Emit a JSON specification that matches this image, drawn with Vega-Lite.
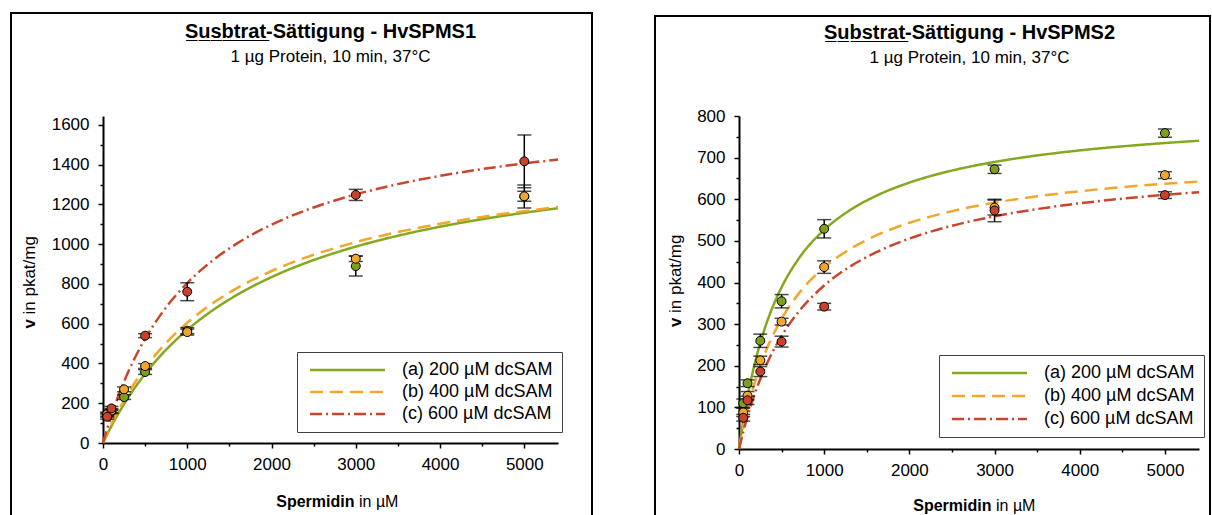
{
  "$schema": "https://vega.github.io/schema/vega-lite/v6.json",
  "padding": {"left": 10, "top": 12, "right": 0, "bottom": 0},
  "spacing": 61,
  "center": true,
  "resolve": {"scale": {"color": "independent", "strokeDash": "independent", "fill": "independent"}, "legend": {"color": "independent", "strokeDash": "independent"}},
  "config": {
    "font": "Liberation Sans",
    "view": {"stroke": "black", "strokeWidth": 2},
    "axis": {"grid": false, "domainColor": "black", "domainWidth": 2, "tickColor": "black", "tickWidth": 1.5, "labelColor": "black", "labelFontSize": 17, "labelFont": "Liberation Sans", "titleColor": "black", "titleFontSize": 16, "titleFont": "Liberation Sans", "labelOverlap": false, "labelFlush": false, "labelBound": false},
    "title": {"fontSize": 20, "font": "Liberation Sans", "fontWeight": "bold", "color": "black", "subtitleFontSize": 17, "subtitleFont": "Liberation Sans", "subtitleColor": "black", "subtitlePadding": 7, "anchor": "middle", "frame": "group"}
  },
  "datasets": {
    "pL": [
      {"series": "(a) 200 µM dcSAM", "x": 50, "v": 140, "err": 10},
      {"series": "(a) 200 µM dcSAM", "x": 100, "v": 158, "err": 10},
      {"series": "(a) 200 µM dcSAM", "x": 250, "v": 231, "err": 12},
      {"series": "(a) 200 µM dcSAM", "x": 500, "v": 357, "err": 12},
      {"series": "(a) 200 µM dcSAM", "x": 1000, "v": 565, "err": 15},
      {"series": "(a) 200 µM dcSAM", "x": 3000, "v": 890, "err": 50},
      {"series": "(a) 200 µM dcSAM", "x": 5000, "v": 1240, "err": 58},
      {"series": "(b) 400 µM dcSAM", "x": 50, "v": 145, "err": 10},
      {"series": "(b) 400 µM dcSAM", "x": 100, "v": 163, "err": 10},
      {"series": "(b) 400 µM dcSAM", "x": 250, "v": 270, "err": 12},
      {"series": "(b) 400 µM dcSAM", "x": 500, "v": 387, "err": 12},
      {"series": "(b) 400 µM dcSAM", "x": 1000, "v": 558, "err": 15},
      {"series": "(b) 400 µM dcSAM", "x": 3000, "v": 927, "err": 14},
      {"series": "(b) 400 µM dcSAM", "x": 5000, "v": 1241, "err": 25},
      {"series": "(c) 600 µM dcSAM", "x": 50, "v": 132, "err": 12},
      {"series": "(c) 600 µM dcSAM", "x": 100, "v": 174, "err": 10},
      {"series": "(c) 600 µM dcSAM", "x": 500, "v": 540, "err": 10},
      {"series": "(c) 600 µM dcSAM", "x": 1000, "v": 761, "err": 45},
      {"series": "(c) 600 µM dcSAM", "x": 3000, "v": 1248, "err": 28},
      {"series": "(c) 600 µM dcSAM", "x": 5000, "v": 1417, "err": 133}
    ],
    "cL": [
      {"series": "(a) 200 µM dcSAM", "x": 0, "v": 0}, {"series": "(a) 200 µM dcSAM", "x": 50, "v": 43.5}, {"series": "(a) 200 µM dcSAM", "x": 100, "v": 84.7}, {"series": "(a) 200 µM dcSAM", "x": 200, "v": 160.7}, {"series": "(a) 200 µM dcSAM", "x": 300, "v": 229.2}, {"series": "(a) 200 µM dcSAM", "x": 400, "v": 291.4}, {"series": "(a) 200 µM dcSAM", "x": 500, "v": 348.0}, {"series": "(a) 200 µM dcSAM", "x": 700, "v": 447.4}, {"series": "(a) 200 µM dcSAM", "x": 1000, "v": 569.2}, {"series": "(a) 200 µM dcSAM", "x": 1300, "v": 667.1}, {"series": "(a) 200 µM dcSAM", "x": 1600, "v": 747.4}, {"series": "(a) 200 µM dcSAM", "x": 2000, "v": 834.5}, {"series": "(a) 200 µM dcSAM", "x": 2500, "v": 920.3}, {"series": "(a) 200 µM dcSAM", "x": 3000, "v": 987.9}, {"series": "(a) 200 µM dcSAM", "x": 3500, "v": 1042.7}, {"series": "(a) 200 µM dcSAM", "x": 4000, "v": 1088.0}, {"series": "(a) 200 µM dcSAM", "x": 4500, "v": 1126.0}, {"series": "(a) 200 µM dcSAM", "x": 5000, "v": 1158.3}, {"series": "(a) 200 µM dcSAM", "x": 5400, "v": 1181.0},
      {"series": "(b) 400 µM dcSAM", "x": 0, "v": 0}, {"series": "(b) 400 µM dcSAM", "x": 50, "v": 48.7}, {"series": "(b) 400 µM dcSAM", "x": 100, "v": 94.3}, {"series": "(b) 400 µM dcSAM", "x": 200, "v": 177.6}, {"series": "(b) 400 µM dcSAM", "x": 300, "v": 251.6}, {"series": "(b) 400 µM dcSAM", "x": 400, "v": 317.9}, {"series": "(b) 400 µM dcSAM", "x": 500, "v": 377.7}, {"series": "(b) 400 µM dcSAM", "x": 700, "v": 480.9}, {"series": "(b) 400 µM dcSAM", "x": 1000, "v": 604.9}, {"series": "(b) 400 µM dcSAM", "x": 1300, "v": 702.5}, {"series": "(b) 400 µM dcSAM", "x": 1600, "v": 781.2}, {"series": "(b) 400 µM dcSAM", "x": 2000, "v": 865.3}, {"series": "(b) 400 µM dcSAM", "x": 2500, "v": 946.8}, {"series": "(b) 400 µM dcSAM", "x": 3000, "v": 1010.2}, {"series": "(b) 400 µM dcSAM", "x": 3500, "v": 1061.0}, {"series": "(b) 400 µM dcSAM", "x": 4000, "v": 1102.5}, {"series": "(b) 400 µM dcSAM", "x": 4500, "v": 1137.2}, {"series": "(b) 400 µM dcSAM", "x": 5000, "v": 1166.5}, {"series": "(b) 400 µM dcSAM", "x": 5400, "v": 1186.9},
      {"series": "(c) 600 µM dcSAM", "x": 0, "v": 0}, {"series": "(c) 600 µM dcSAM", "x": 50, "v": 72.1}, {"series": "(c) 600 µM dcSAM", "x": 100, "v": 138.4}, {"series": "(c) 600 µM dcSAM", "x": 200, "v": 256.3}, {"series": "(c) 600 µM dcSAM", "x": 300, "v": 357.9}, {"series": "(c) 600 µM dcSAM", "x": 400, "v": 446.5}, {"series": "(c) 600 µM dcSAM", "x": 500, "v": 524.2}, {"series": "(c) 600 µM dcSAM", "x": 700, "v": 654.6}, {"series": "(c) 600 µM dcSAM", "x": 1000, "v": 804.7}, {"series": "(c) 600 µM dcSAM", "x": 1300, "v": 918.0}, {"series": "(c) 600 µM dcSAM", "x": 1600, "v": 1006.5}, {"series": "(c) 600 µM dcSAM", "x": 2000, "v": 1098.4}, {"series": "(c) 600 µM dcSAM", "x": 2500, "v": 1184.9}, {"series": "(c) 600 µM dcSAM", "x": 3000, "v": 1250.6}, {"series": "(c) 600 µM dcSAM", "x": 3500, "v": 1302.2}, {"series": "(c) 600 µM dcSAM", "x": 4000, "v": 1343.7}, {"series": "(c) 600 µM dcSAM", "x": 4500, "v": 1377.9}, {"series": "(c) 600 µM dcSAM", "x": 5000, "v": 1406.5}, {"series": "(c) 600 µM dcSAM", "x": 5400, "v": 1426.3}
    ],
    "pR": [
      {"series": "(a) 200 µM dcSAM", "x": 50, "v": 110, "err": 10},
      {"series": "(a) 200 µM dcSAM", "x": 100, "v": 158, "err": 8},
      {"series": "(a) 200 µM dcSAM", "x": 250, "v": 260, "err": 16},
      {"series": "(a) 200 µM dcSAM", "x": 500, "v": 355, "err": 16},
      {"series": "(a) 200 µM dcSAM", "x": 1000, "v": 529, "err": 22},
      {"series": "(a) 200 µM dcSAM", "x": 3000, "v": 672, "err": 10},
      {"series": "(a) 200 µM dcSAM", "x": 5000, "v": 759, "err": 10},
      {"series": "(b) 400 µM dcSAM", "x": 50, "v": 88, "err": 10},
      {"series": "(b) 400 µM dcSAM", "x": 100, "v": 128, "err": 10},
      {"series": "(b) 400 µM dcSAM", "x": 250, "v": 213, "err": 10},
      {"series": "(b) 400 µM dcSAM", "x": 500, "v": 306, "err": 8},
      {"series": "(b) 400 µM dcSAM", "x": 1000, "v": 437, "err": 15},
      {"series": "(b) 400 µM dcSAM", "x": 3000, "v": 580, "err": 18},
      {"series": "(b) 400 µM dcSAM", "x": 5000, "v": 658, "err": 8},
      {"series": "(c) 600 µM dcSAM", "x": 50, "v": 75, "err": 8},
      {"series": "(c) 600 µM dcSAM", "x": 100, "v": 117, "err": 10},
      {"series": "(c) 600 µM dcSAM", "x": 250, "v": 186, "err": 12},
      {"series": "(c) 600 µM dcSAM", "x": 500, "v": 258, "err": 13},
      {"series": "(c) 600 µM dcSAM", "x": 1000, "v": 342, "err": 8},
      {"series": "(c) 600 µM dcSAM", "x": 3000, "v": 573, "err": 27},
      {"series": "(c) 600 µM dcSAM", "x": 5000, "v": 610, "err": 8}
    ],
    "cR": [
      {"series": "(a) 200 µM dcSAM", "x": 0, "v": 0}, {"series": "(a) 200 µM dcSAM", "x": 50, "v": 68.0}, {"series": "(a) 200 µM dcSAM", "x": 100, "v": 125.5}, {"series": "(a) 200 µM dcSAM", "x": 200, "v": 217.6}, {"series": "(a) 200 µM dcSAM", "x": 300, "v": 288.0}, {"series": "(a) 200 µM dcSAM", "x": 400, "v": 343.6}, {"series": "(a) 200 µM dcSAM", "x": 500, "v": 388.6}, {"series": "(a) 200 µM dcSAM", "x": 700, "v": 457.0}, {"series": "(a) 200 µM dcSAM", "x": 1000, "v": 526.5}, {"series": "(a) 200 µM dcSAM", "x": 1300, "v": 573.4}, {"series": "(a) 200 µM dcSAM", "x": 1600, "v": 607.3}, {"series": "(a) 200 µM dcSAM", "x": 2000, "v": 640.0}, {"series": "(a) 200 µM dcSAM", "x": 2500, "v": 668.9}, {"series": "(a) 200 µM dcSAM", "x": 3000, "v": 689.6}, {"series": "(a) 200 µM dcSAM", "x": 3500, "v": 705.2}, {"series": "(a) 200 µM dcSAM", "x": 4000, "v": 717.4}, {"series": "(a) 200 µM dcSAM", "x": 4500, "v": 727.1}, {"series": "(a) 200 µM dcSAM", "x": 5000, "v": 735.1}, {"series": "(a) 200 µM dcSAM", "x": 5400, "v": 740.6},
      {"series": "(b) 400 µM dcSAM", "x": 0, "v": 0}, {"series": "(b) 400 µM dcSAM", "x": 50, "v": 51.4}, {"series": "(b) 400 µM dcSAM", "x": 100, "v": 96.0}, {"series": "(b) 400 µM dcSAM", "x": 200, "v": 169.4}, {"series": "(b) 400 µM dcSAM", "x": 300, "v": 227.4}, {"series": "(b) 400 µM dcSAM", "x": 400, "v": 274.3}, {"series": "(b) 400 µM dcSAM", "x": 500, "v": 313.0}, {"series": "(b) 400 µM dcSAM", "x": 700, "v": 373.3}, {"series": "(b) 400 µM dcSAM", "x": 1000, "v": 436.4}, {"series": "(b) 400 µM dcSAM", "x": 1300, "v": 480.0}, {"series": "(b) 400 µM dcSAM", "x": 1600, "v": 512.0}, {"series": "(b) 400 µM dcSAM", "x": 2000, "v": 543.4}, {"series": "(b) 400 µM dcSAM", "x": 2500, "v": 571.4}, {"series": "(b) 400 µM dcSAM", "x": 3000, "v": 591.8}, {"series": "(b) 400 µM dcSAM", "x": 3500, "v": 607.2}, {"series": "(b) 400 µM dcSAM", "x": 4000, "v": 619.4}, {"series": "(b) 400 µM dcSAM", "x": 4500, "v": 629.1}, {"series": "(b) 400 µM dcSAM", "x": 5000, "v": 637.2}, {"series": "(b) 400 µM dcSAM", "x": 5400, "v": 642.6},
      {"series": "(c) 600 µM dcSAM", "x": 0, "v": 0}, {"series": "(c) 600 µM dcSAM", "x": 50, "v": 41.5}, {"series": "(c) 600 µM dcSAM", "x": 100, "v": 78.3}, {"series": "(c) 600 µM dcSAM", "x": 200, "v": 141.1}, {"series": "(c) 600 µM dcSAM", "x": 300, "v": 192.5}, {"series": "(c) 600 µM dcSAM", "x": 400, "v": 235.4}, {"series": "(c) 600 µM dcSAM", "x": 500, "v": 271.6}, {"series": "(c) 600 µM dcSAM", "x": 700, "v": 329.8}, {"series": "(c) 600 µM dcSAM", "x": 1000, "v": 392.8}, {"series": "(c) 600 µM dcSAM", "x": 1300, "v": 437.9}, {"series": "(c) 600 µM dcSAM", "x": 1600, "v": 471.7}, {"series": "(c) 600 µM dcSAM", "x": 2000, "v": 505.5}, {"series": "(c) 600 µM dcSAM", "x": 2500, "v": 536.3}, {"series": "(c) 600 µM dcSAM", "x": 3000, "v": 559.0}, {"series": "(c) 600 µM dcSAM", "x": 3500, "v": 576.4}, {"series": "(c) 600 µM dcSAM", "x": 4000, "v": 590.2}, {"series": "(c) 600 µM dcSAM", "x": 4500, "v": 601.4}, {"series": "(c) 600 µM dcSAM", "x": 5000, "v": 610.7}, {"series": "(c) 600 µM dcSAM", "x": 5400, "v": 617.0}
    ]
  },
  "hconcat": [
    {
      "width": 581,
      "height": 510,
      "title": {"text": "S\u0332u\u0332s\u0332b\u0332t\u0332r\u0332a\u0332t\u0332-Sättigung - HvSPMS1", "subtitle": "1 µg Protein, 10 min, 37°C", "offset": -52, "dx": 29},
      "resolve": {"axis": {"x": "independent", "y": "independent"}},
      "layer": [
        {
          "data": {"name": "cL"},
          "mark": {"type": "line", "strokeWidth": 2.5, "interpolate": "monotone", "strokeCap": "butt"},
          "encoding": {
            "x": {"field": "x", "type": "quantitative", "scale": {"domain": [0, 5400], "range": [92, 547], "nice": false, "zero": false},
              "axis": {"orient": "bottom", "offset": -80, "values": [0, 500, 1000, 1500, 2000, 2500, 3000, 3500, 4000, 4500, 5000], "format": "d", "labelExpr": "datum.value % 1000 == 0 ? datum.label : ''", "tickSize": {"condition": {"test": "datum.value % 1000 == 0", "value": 5}, "value": 3}, "labelPadding": 8, "title": "Spermidin", "titleFontWeight": "bold", "titleAlign": "right", "titleX": 343, "titleY": 63, "titleBaseline": "alphabetic"}},
            "y": {"field": "v", "type": "quantitative", "scale": {"domain": [0, 1645], "range": [430, 103], "nice": false},
              "axis": {"orient": "left", "offset": -92, "values": [0, 100, 200, 300, 400, 500, 600, 700, 800, 900, 1000, 1100, 1200, 1300, 1400, 1500, 1600], "format": "d", "labelExpr": "datum.value % 200 == 0 ? datum.label : ''", "tickSize": {"condition": {"test": "datum.value % 200 == 0", "value": 5}, "value": 3}, "labelPadding": 9, "title": "v", "titleFontSize": 17, "titleFontWeight": "bold", "titleAngle": -90, "titleAlign": "left", "titleX": -74, "titleY": 315, "titleBaseline": "middle"}},
            "color": {"field": "series", "type": "nominal", "scale": {"domain": ["(a) 200 µM dcSAM", "(b) 400 µM dcSAM", "(c) 600 µM dcSAM"], "range": ["#86a81f", "#f2a62a", "#c9452b"]},
              "legend": {"title": null, "orient": "none", "legendX": 286, "legendY": 339, "symbolType": "M-1,0H14", "symbolSize": 100, "symbolStrokeWidth": 2.5, "labelFontSize": 18, "labelFont": "Liberation Sans", "labelColor": "black", "labelOffset": 78, "rowPadding": 4, "padding": 9, "strokeColor": "#404040", "fillColor": "white", "labelLimit": 400}},
            "strokeDash": {"field": "series", "type": "nominal", "scale": {"domain": ["(a) 200 µM dcSAM", "(b) 400 µM dcSAM", "(c) 600 µM dcSAM"], "range": [[1, 0], [13, 7], [12, 4, 2, 4]]},
              "legend": {"title": null, "orient": "none", "legendX": 286, "legendY": 339, "symbolType": "M-1,0H14", "symbolSize": 100, "symbolStrokeWidth": 2.5, "labelFontSize": 18, "labelFont": "Liberation Sans", "labelColor": "black", "labelOffset": 78, "rowPadding": 4, "padding": 9, "strokeColor": "#404040", "fillColor": "white", "labelLimit": 400}}
          }
        },
        {
          "data": {"name": "pL"},
          "mark": {"type": "errorbar", "ticks": {"size": 14, "thickness": 1.5, "color": "black"}, "rule": {"color": "black", "strokeWidth": 1.5}},
          "encoding": {
            "x": {"field": "x", "type": "quantitative", "axis": null},
            "y": {"field": "v", "type": "quantitative", "axis": null},
            "yError": {"field": "err"}
          }
        },
        {
          "data": {"name": "pL"},
          "mark": {"type": "circle", "size": 80, "opacity": 1, "stroke": "black", "strokeWidth": 1},
          "encoding": {
            "x": {"field": "x", "type": "quantitative",
              "axis": {"orient": "bottom", "offset": -80, "domain": false, "ticks": false, "labels": false, "title": "in µM", "titleFontWeight": "normal", "titleAlign": "left", "titleX": 347.5, "titleY": 63, "titleBaseline": "alphabetic"}},
            "y": {"field": "v", "type": "quantitative",
              "axis": {"orient": "left", "offset": -92, "domain": false, "ticks": false, "labels": false, "title": "in pkat/mg", "titleFontSize": 17, "titleFontWeight": "normal", "titleAngle": -90, "titleAlign": "left", "titleX": -74, "titleY": 301, "titleBaseline": "middle"}},
            "fill": {"field": "series", "type": "nominal", "scale": {"domain": ["(a) 200 µM dcSAM", "(b) 400 µM dcSAM", "(c) 600 µM dcSAM"], "range": ["#7f9e1a", "#f0a62c", "#c8412a"]}, "legend": null}
          }
        }
      ]
    },
    {
      "width": 555,
      "height": 504,
      "title": {"text": "S\u0332u\u0332b\u0332s\u0332t\u0332r\u0332a\u0332t\u0332-Sättigung - HvSPMS2", "subtitle": "1 µg Protein, 10 min, 37°C", "offset": -50, "dx": 37},
      "resolve": {"axis": {"x": "independent", "y": "independent"}},
      "layer": [
        {
          "data": {"name": "cR"},
          "mark": {"type": "line", "strokeWidth": 2.5, "interpolate": "monotone", "strokeCap": "butt"},
          "encoding": {
            "x": {"field": "x", "type": "quantitative", "scale": {"domain": [0, 5400], "range": [84, 544], "nice": false, "zero": false},
              "axis": {"orient": "bottom", "offset": -71, "values": [0, 500, 1000, 1500, 2000, 2500, 3000, 3500, 4000, 4500, 5000], "format": "d", "labelExpr": "datum.value % 1000 == 0 ? datum.label : ''", "tickSize": {"condition": {"test": "datum.value % 1000 == 0", "value": 5}, "value": 3}, "labelPadding": 8, "title": "Spermidin", "titleFontWeight": "bold", "titleAlign": "right", "titleX": 336, "titleY": 61, "titleBaseline": "alphabetic"}},
            "y": {"field": "v", "type": "quantitative", "scale": {"domain": [0, 800], "range": [433, 100], "nice": false},
              "axis": {"orient": "left", "offset": -84, "values": [0, 50, 100, 150, 200, 250, 300, 350, 400, 450, 500, 550, 600, 650, 700, 750, 800], "format": "d", "labelExpr": "datum.value % 100 == 0 ? datum.label : ''", "tickSize": {"condition": {"test": "datum.value % 100 == 0", "value": 5}, "value": 3}, "labelPadding": 9, "title": "v", "titleFontSize": 17, "titleFontWeight": "bold", "titleAngle": -90, "titleAlign": "left", "titleX": -64, "titleY": 310.5, "titleBaseline": "middle"}},
            "color": {"field": "series", "type": "nominal", "scale": {"domain": ["(a) 200 µM dcSAM", "(b) 400 µM dcSAM", "(c) 600 µM dcSAM"], "range": ["#86a81f", "#f2a62a", "#c9452b"]},
              "legend": {"title": null, "orient": "none", "legendX": 284, "legendY": 339, "symbolType": "M-1,0H14", "symbolSize": 100, "symbolStrokeWidth": 2.5, "labelFontSize": 18, "labelFont": "Liberation Sans", "labelColor": "black", "labelOffset": 78, "rowPadding": 5, "padding": 9, "strokeColor": "#404040", "fillColor": "white", "labelLimit": 400}},
            "strokeDash": {"field": "series", "type": "nominal", "scale": {"domain": ["(a) 200 µM dcSAM", "(b) 400 µM dcSAM", "(c) 600 µM dcSAM"], "range": [[1, 0], [13, 7], [12, 4, 2, 4]]},
              "legend": {"title": null, "orient": "none", "legendX": 284, "legendY": 339, "symbolType": "M-1,0H14", "symbolSize": 100, "symbolStrokeWidth": 2.5, "labelFontSize": 18, "labelFont": "Liberation Sans", "labelColor": "black", "labelOffset": 78, "rowPadding": 5, "padding": 9, "strokeColor": "#404040", "fillColor": "white", "labelLimit": 400}}
          }
        },
        {
          "data": {"name": "pR"},
          "mark": {"type": "errorbar", "ticks": {"size": 14, "thickness": 1.5, "color": "black"}, "rule": {"color": "black", "strokeWidth": 1.5}},
          "encoding": {
            "x": {"field": "x", "type": "quantitative", "axis": null},
            "y": {"field": "v", "type": "quantitative", "axis": null},
            "yError": {"field": "err"}
          }
        },
        {
          "data": {"name": "pR"},
          "mark": {"type": "circle", "size": 80, "opacity": 1, "stroke": "black", "strokeWidth": 1},
          "encoding": {
            "x": {"field": "x", "type": "quantitative",
              "axis": {"orient": "bottom", "offset": -71, "domain": false, "ticks": false, "labels": false, "title": "in µM", "titleFontWeight": "normal", "titleAlign": "left", "titleX": 340.5, "titleY": 61, "titleBaseline": "alphabetic"}},
            "y": {"field": "v", "type": "quantitative",
              "axis": {"orient": "left", "offset": -84, "domain": false, "ticks": false, "labels": false, "title": "in pkat/mg", "titleFontSize": 17, "titleFontWeight": "normal", "titleAngle": -90, "titleAlign": "left", "titleX": -64, "titleY": 296.5, "titleBaseline": "middle"}},
            "fill": {"field": "series", "type": "nominal", "scale": {"domain": ["(a) 200 µM dcSAM", "(b) 400 µM dcSAM", "(c) 600 µM dcSAM"], "range": ["#7f9e1a", "#f0a62c", "#c8412a"]}, "legend": null}
          }
        }
      ]
    }
  ]
}
